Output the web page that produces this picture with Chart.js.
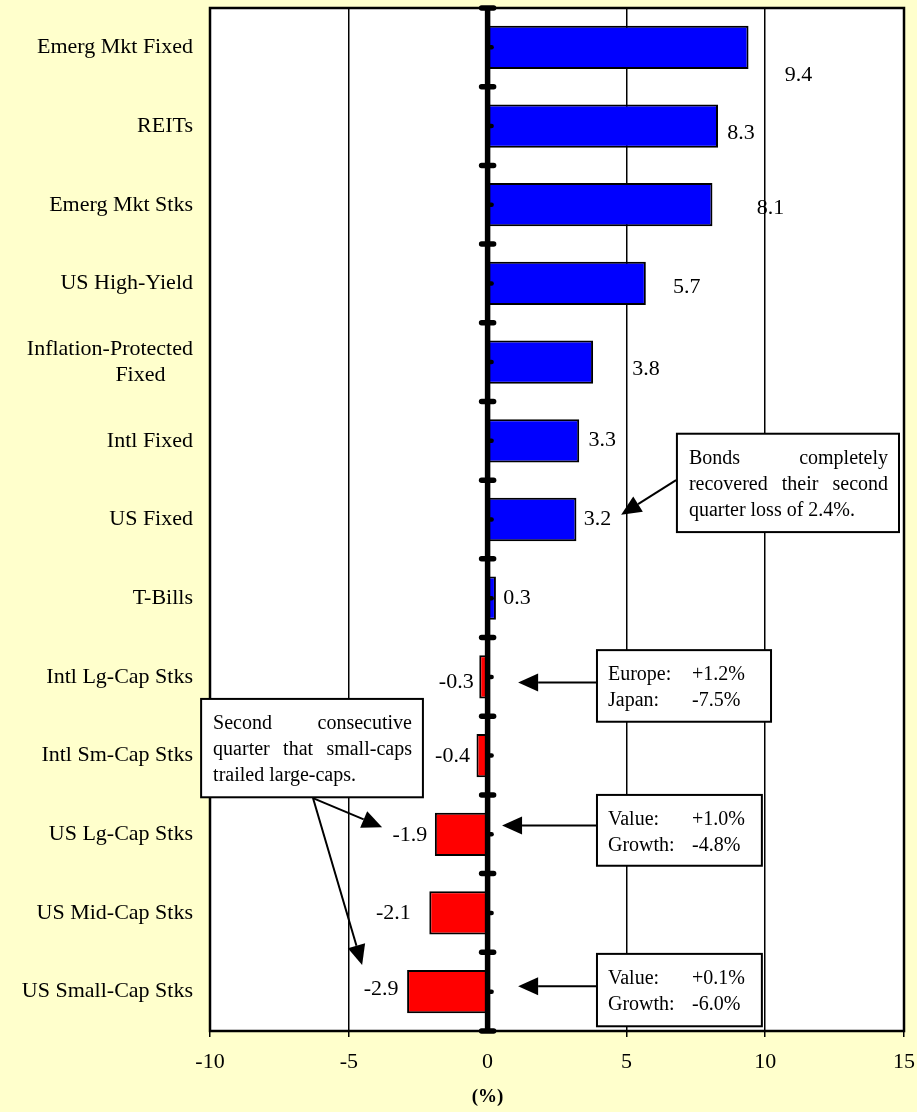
<!DOCTYPE html>
<html>
<head>
<meta charset="utf-8">
<script src="https://cdn.jsdelivr.net/npm/chart.js@4.4.1/dist/chart.umd.min.js"></script>
<style>
  html, body { margin: 0; padding: 0; background: #FFFFCC; }
  canvas { display: block; }
</style>
</head>
<body>
<canvas id="chart" width="917" height="1112"></canvas>
<script>
const categories = [
  'Emerg Mkt Fixed', 'REITs', 'Emerg Mkt Stks', 'US High-Yield',
  ['Inflation-Protected', 'Fixed     '], 'Intl Fixed', 'US Fixed', 'T-Bills',
  'Intl Lg-Cap Stks', 'Intl Sm-Cap Stks', 'US Lg-Cap Stks', 'US Mid-Cap Stks', 'US Small-Cap Stks'
]
const returns = [9.4, 8.3, 8.1, 5.7, 3.8, 3.3, 3.2, 0.3, -0.3, -0.4, -1.9, -2.1, -2.9]
const xTicks = [-10, -5, 0, 5, 10, 15]
const axisTitle = '(%)'

// where each value label sits relative to its bar end (px)
const labelDx = [50, 23, 58, 41, 53, 23, 21, 21, -23, -24, -25, -36, -26]
const labelDy = [28, 7, 3, 4, 7, -1, 0, 0, 5, 1, 1, 0, -2]

// callouts: box in (value, category index) units, arrows from -> to
const notes = [
  { box: [6.82, 14.82, 4.91, 6.16], justify: true,
    lines: ['Bonds completely', 'recovered their second', 'quarter loss of 2.4%.'],
    arrows: [[6.79, 5.50, 4.81, 5.94]] },
  { box: [3.94, 10.21, 7.66, 8.57], cols: true,
    lines: [['Europe:', '+1.2%'], ['Japan:', '-7.5%']],
    arrows: [[3.94, 8.07, 1.10, 8.07]] },
  { box: [3.94, 9.88, 9.50, 10.40], cols: true,
    lines: [['Value:', '+1.0%'], ['Growth:', '-4.8%']],
    arrows: [[3.94, 9.89, 0.52, 9.89]] },
  { box: [3.94, 9.88, 11.52, 12.44], cols: true,
    lines: [['Value:', '+0.1%'], ['Growth:', '-6.0%']],
    arrows: [[3.94, 11.93, 1.10, 11.93]] },
  { box: [-10.32, -2.33, 8.28, 9.53], justify: true,
    lines: ['Second consecutive', 'quarter that small-caps', 'trailed large-caps.'],
    arrows: [[-6.29, 9.54, -3.80, 9.91], [-6.29, 9.54, -4.52, 11.66]] }
]

const serif = "'Liberation Serif', 'Times New Roman', serif"

function arrow(ctx, x1, y1, x2, y2) {
  const a = Math.atan2(y2 - y1, x2 - x1)
  const len = 20, half = 9
  const bx = x2 - len * Math.cos(a), by = y2 - len * Math.sin(a)
  ctx.beginPath()
  ctx.moveTo(x1, y1)
  ctx.lineTo(bx, by)
  ctx.lineWidth = 2
  ctx.stroke()
  ctx.beginPath()
  ctx.moveTo(x2, y2)
  ctx.lineTo(bx + half * Math.sin(a), by - half * Math.cos(a))
  ctx.lineTo(bx - half * Math.sin(a), by + half * Math.cos(a))
  ctx.closePath()
  ctx.fill()
}

function justified(ctx, text, x, y, width) {
  const words = text.split(' ')
  const total = words.reduce((s, w) => s + ctx.measureText(w).width, 0)
  const gap = (width - total) / (words.length - 1)
  let cx = x
  words.forEach(w => {
    ctx.fillText(w, cx, y)
    cx += ctx.measureText(w).width + gap
  })
}

const decor = {
  id: 'decor',
  beforeDraw(chart) {
    const { ctx, chartArea: a } = chart
    ctx.save()
    ctx.fillStyle = '#FFFFCC'
    ctx.fillRect(0, 0, chart.width, chart.height)
    ctx.fillStyle = '#FFFFFF'
    ctx.fillRect(a.left, a.top, a.right - a.left, a.bottom - a.top)
    ctx.restore()
  },
  afterDatasetsDraw(chart) {
    const { ctx, chartArea: a, scales: { x, y } } = chart
    const x0 = x.getPixelForValue(0)
    ctx.save()
    ctx.strokeStyle = '#000'
    ctx.fillStyle = '#000'

    // plot frame
    ctx.lineWidth = 2.5
    ctx.strokeRect(a.left, a.top, a.right - a.left, a.bottom - a.top)

    // thick zero axis with its tick marks
    ctx.lineWidth = 5.5
    ctx.beginPath()
    ctx.moveTo(x0, a.top)
    ctx.lineTo(x0, a.bottom)
    ctx.stroke()
    ctx.lineCap = 'round'
    for (let i = 0; i <= categories.length; i++) {
      const py = y.getPixelForValue(i - 0.5)
      ctx.beginPath()
      ctx.moveTo(x0 - 6, py)
      ctx.lineTo(x0 + 6, py)
      ctx.stroke()
    }
    ctx.lineWidth = 4.5
    for (let i = 0; i < categories.length; i++) {
      const py = y.getPixelForValue(i)
      ctx.beginPath()
      ctx.moveTo(x0, py)
      ctx.lineTo(x0 + 4, py)
      ctx.stroke()
    }
    ctx.lineCap = 'butt'

    // value labels
    ctx.font = '22px ' + serif
    ctx.textAlign = 'center'
    ctx.textBaseline = 'middle'
    chart.getDatasetMeta(0).data.forEach((bar, i) => {
      ctx.fillText(returns[i].toFixed(1), bar.x + labelDx[i], bar.y + labelDy[i])
    })

    // axis title under zero
    ctx.font = 'bold 19px ' + serif
    ctx.fillText(axisTitle, x0, a.bottom + 66)

    // callouts
    notes.forEach(n => {
      const l = x.getPixelForValue(n.box[0]), r = x.getPixelForValue(n.box[1])
      const t = y.getPixelForValue(n.box[2]), b = y.getPixelForValue(n.box[3])
      n.arrows.forEach(([ax, ay, bx, by]) => {
        arrow(ctx, x.getPixelForValue(ax), y.getPixelForValue(ay), x.getPixelForValue(bx), y.getPixelForValue(by))
      })
      ctx.fillStyle = '#FFFFFF'
      ctx.fillRect(l, t, r - l, b - t)
      ctx.lineWidth = 2
      ctx.strokeRect(l, t, r - l, b - t)
      ctx.fillStyle = '#000'
      ctx.font = '20px ' + serif
      ctx.textAlign = 'left'
      ctx.textBaseline = 'middle'
      n.lines.forEach((line, k) => {
        const ty = t + 25 + k * 26
        if (n.cols) {
          ctx.fillText(line[0], l + 11, ty)
          ctx.fillText(line[1], l + 95, ty)
        } else if (n.justify && k < n.lines.length - 1) {
          justified(ctx, line, l + 12, ty, r - l - 23)
        } else {
          ctx.fillText(line, l + 12, ty)
        }
      })
    })
    ctx.restore()
  }
}

new Chart(document.getElementById('chart'), {
  type: 'bar',
  data: {
    labels: categories,
    datasets: [{
      data: returns,
      backgroundColor: returns.map(v => v >= 0 ? '#0000FF' : '#FF0000'),
      borderColor: '#000000',
      borderWidth: 2,
      barPercentage: 0.55,
      categoryPercentage: 1
    }]
  },
  options: {
    responsive: false,
    animation: false,
    indexAxis: 'y',
    layout: { padding: { top: 8, right: 13, left: 0, bottom: 0 } },
    plugins: { legend: { display: false }, tooltip: { enabled: false } },
    scales: {
      x: {
        min: xTicks[0],
        max: xTicks[xTicks.length - 1],
        afterBuildTicks: s => { s.ticks = xTicks.map(v => ({ value: v })) },
        afterFit: s => { s.height = 81; s.paddingLeft = 0; s.paddingRight = 0 },
        ticks: { color: '#000', font: { family: serif, size: 22 }, padding: 12, maxRotation: 0 },
        grid: {
          color: '#000',
          lineWidth: c => (c.tick && c.tick.value === 0) ? 0 : 1.5,
          tickLength: 6
        },
        border: { display: false }
      },
      y: {
        afterFit: s => { s.width = 210; s.paddingTop = 0; s.paddingBottom = 0 },
        ticks: { color: '#000', font: { family: serif, size: 22 }, padding: 17 },
        grid: { display: false, drawTicks: false },
        border: { display: false }
      }
    }
  },
  plugins: [decor]
})
</script>
</body>
</html>
